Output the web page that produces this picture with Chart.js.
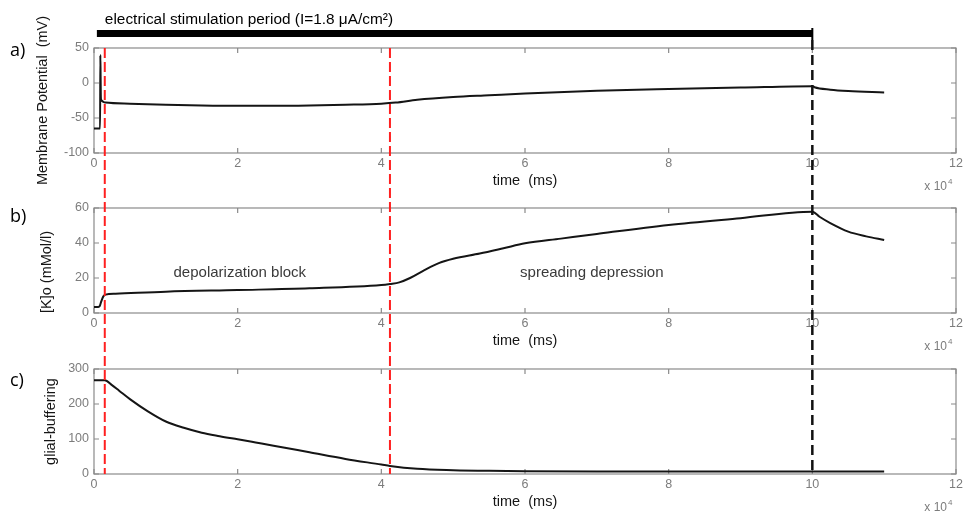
<!DOCTYPE html>
<html>
<head>
<meta charset="utf-8">
<script src="https://cdn.jsdelivr.net/npm/chart.js@4.4.1/dist/chart.umd.min.js"></script>
<style>
html, body { margin: 0; padding: 0; background: #fff; }
#wrap { position: relative; width: 963px; height: 514px; overflow: hidden; }
#wrap canvas { position: absolute; left: 0; top: 0; }
</style>
</head>
<body>
<div id="wrap">
    <canvas id="chartA" width="963" height="514"></canvas>
    <canvas id="chartB" width="963" height="514"></canvas>
    <canvas id="chartC" width="963" height="514"></canvas>
</div>
<script>
// a) membrane potential (mV)
const timeA = [0, 850, 880, 920, 960, 1050, 1300, 1600, 5000, 10000, 15000, 20000, 25000, 30000, 35000, 40000,
    42000, 45000, 50000, 55000, 60000, 70000, 80000, 90000, 100000, 100300, 102500, 105000, 110000];
const membranePotential = [-65, -65, 40, 10, -22, -25, -27, -28, -29.5, -31, -32, -32.5, -32.5, -32, -31, -29.5,
    -28, -24, -20, -17.5, -15, -11, -8.5, -6.5, -4.5, -6, -9.5, -11.5, -13.5];

// b) extracellular potassium [K]o (mMol/l)
const timeB = [0, 600, 800, 1000, 1300, 1600, 3000, 10000, 20000, 30000, 40000, 41200, 42500, 44000, 46000, 48000,
    50000, 53700, 57000, 60000, 65000, 70000, 80000, 90000, 100000, 101000, 102500, 105000, 107500, 110000];
const potassium = [3.5, 3.5, 4, 6.5, 9.5, 10.5, 11, 12.2, 13.1, 14.1, 16, 16.6, 17.5, 20, 24.5, 28.5,
    31, 34, 37, 39.8, 42.5, 45.2, 50.3, 54.2, 57.9, 55, 51.4, 46.5, 43.8, 41.7];

// c) glial buffering
const timeC = [0, 1500, 2500, 3500, 5000, 7500, 10000, 12500, 15000, 17500, 20000, 22500, 25000, 30000, 35000,
    40000, 41200, 45000, 50000, 55000, 60000, 70000, 80000, 90000, 100000, 110000];
const glialBuffering = [268, 268, 254, 238, 214, 179, 150, 132, 118, 108, 99, 90, 81, 62, 43,
    27, 23, 15, 11, 9, 8, 7, 7, 7, 7, 7];

// phase markers (ms) and stimulation period
const redMarkers = [1500, 41200];
const blackMarker = 100000;
const stimPeriod = [400, 100000];
const stimLabel = 'electrical stimulation period (I=1.8 \u03bcA/cm\u00b2)';

const xTicks = { min: 0, max: 120000, step: 20000, scale: 1e4 };

const annotationsB = [
    { text: 'depolarization block', t: 20300, v: 23 },
    { text: 'spreading depression', t: 69300, v: 23 }
];

Chart.defaults.font.family = '"Liberation Sans", Arial, sans-serif';
Chart.defaults.animation = false;

const tickGray = '#7c7c7c';

const panelFrame = {
    id: 'panelFrame',
    beforeDatasetsDraw(chart, args, o) {
        const { ctx, chartArea: a, scales: { x, y } } = chart;
        ctx.save();
        ctx.strokeStyle = '#8a8a8a';
        ctx.lineWidth = 1.2;
        ctx.strokeRect(a.left, a.top, a.width, a.height);
        const tl = 5;
        ctx.beginPath();
        x.ticks.forEach(t => {
            const px = x.getPixelForValue(t.value);
            ctx.moveTo(px, a.top); ctx.lineTo(px, a.top + tl);
            ctx.moveTo(px, a.bottom); ctx.lineTo(px, a.bottom - tl);
        });
        y.ticks.forEach(t => {
            const py = y.getPixelForValue(t.value);
            ctx.moveTo(a.left, py); ctx.lineTo(a.left + tl, py);
            ctx.moveTo(a.right, py); ctx.lineTo(a.right - tl, py);
        });
        ctx.stroke();
        ctx.restore();
    },
    afterDraw(chart, args, o) {
        const { ctx, chartArea: a, scales: { x, y } } = chart;
        ctx.save();
        // panel letter
        ctx.fillStyle = '#000';
        ctx.font = '18px "Open Sans", sans-serif';
        ctx.textBaseline = 'middle';
        ctx.textAlign = 'left';
        ctx.fillText(o.letter, 10, a.top + o.letterDy);
        // x 10^4 multiplier
        ctx.fillStyle = tickGray;
        ctx.font = '12px "Liberation Sans", Arial, sans-serif';
        ctx.textAlign = 'right';
        ctx.fillText('x 10', a.right - 9, a.bottom + 34);
        ctx.font = '8px "Liberation Sans", Arial, sans-serif';
        ctx.textAlign = 'left';
        ctx.fillText('4', a.right - 8, a.bottom + 29);
        // text annotations
        ctx.fillStyle = '#3a3a3a';
        ctx.font = '15px "Liberation Sans", Arial, sans-serif';
        ctx.textAlign = 'center';
        (o.notes || []).forEach(n => {
            ctx.fillText(n.text, x.getPixelForValue(n.t), y.getPixelForValue(n.v));
        });
        ctx.restore();
    }
};

// stimulation bar and dashed phase markers, drawn on the topmost chart
const overlay = {
    id: 'overlay',
    afterDraw(chart, args, o) {
        const { ctx, scales: { x } } = chart;
        ctx.save();
        const x0 = x.getPixelForValue(stimPeriod[0]);
        const x1 = x.getPixelForValue(stimPeriod[1]);
        ctx.fillStyle = '#000';
        ctx.fillRect(x0, 30, x1 - x0, 7);
        ctx.fillRect(x1 - 1, 28, 2, 12);
        ctx.font = '15.4px "Liberation Sans", Arial, sans-serif';
        ctx.textBaseline = 'middle';
        ctx.textAlign = 'left';
        ctx.fillText(stimLabel, x0 + 8, 20);

        ctx.lineWidth = 2;
        ctx.strokeStyle = '#ff2020';
        ctx.setLineDash([10, 4]);
        redMarkers.forEach(t => {
            const px = x.getPixelForValue(t);
            ctx.beginPath();
            ctx.moveTo(px, 48);
            ctx.lineTo(px, 474);
            ctx.stroke();
        });
        ctx.lineWidth = 2.5;
        ctx.strokeStyle = '#111';
        ctx.setLineDash([10, 5]);
        const pb = x.getPixelForValue(blackMarker);
        ctx.beginPath();
        ctx.moveTo(pb, 40);
        ctx.lineTo(pb, 474);
        ctx.stroke();
        ctx.restore();
    }
};

function makePanel(id, cfg) {
    const points = cfg.time.map((t, i) => ({ x: t, y: cfg.values[i] }));
    const plugins = [panelFrame];
    if (cfg.overlay) plugins.push(overlay);
    return new Chart(document.getElementById(id).getContext('2d'), {
        type: 'line',
        data: {
            datasets: [{
                data: points,
                borderColor: '#151515',
                borderWidth: 2,
                pointRadius: 0,
                cubicInterpolationMode: 'monotone',
                fill: false
            }]
        },
        options: {
            responsive: false,
            devicePixelRatio: 1,
            events: [],
            layout: { padding: cfg.padding },
            plugins: {
                legend: { display: false },
                tooltip: { enabled: false },
                panelFrame: { letter: cfg.letter, letterDy: cfg.letterDy, notes: cfg.notes }
            },
            scales: {
                x: {
                    type: 'linear',
                    min: xTicks.min,
                    max: xTicks.max,
                    grid: { display: false, drawTicks: false },
                    border: { display: false },
                    ticks: {
                        stepSize: xTicks.step,
                        color: tickGray,
                        font: { size: 12.5 },
                        padding: 3,
                        maxRotation: 0,
                        callback: v => v / xTicks.scale
                    },
                    title: {
                        display: true,
                        text: 'time  (ms)',
                        color: '#151515',
                        font: { size: 14.5 },
                        padding: { top: 0, bottom: cfg.xTitlePad }
                    },
                    afterFit: s => {
                        s.height = cfg.xHeight;
                        s.paddingLeft = 0;
                        s.paddingRight = 0;
                    }
                },
                y: {
                    min: cfg.yMin,
                    max: cfg.yMax,
                    grid: { display: false, drawTicks: false },
                    border: { display: false },
                    ticks: {
                        stepSize: cfg.yStep,
                        color: tickGray,
                        font: { size: 12.5 },
                        padding: 5
                    },
                    title: {
                        display: true,
                        text: cfg.yTitle,
                        align: cfg.yTitleAlign || 'center',
                        color: '#151515',
                        font: { size: 14.5 },
                        padding: { top: cfg.yTitleX, bottom: 0 }
                    },
                    afterFit: s => {
                        s.width = 94;
                        s.paddingTop = 0;
                        s.paddingBottom = 0;
                    }
                }
            }
        },
        plugins: plugins
    });
}

makePanel('chartA', {
    time: timeA, values: membranePotential,
    yMin: -100, yMax: 50, yStep: 50,
    yTitle: 'Membrane Potential  (mV)', yTitleX: 34,
    letter: 'a)', letterDy: 3,
    padding: { top: 48, left: 0, right: 7, bottom: 324 },
    xHeight: 37, xTitlePad: 0
});
makePanel('chartB', {
    time: timeB, values: potassium,
    yMin: 0, yMax: 60, yStep: 20,
    yTitle: '[K]o (mMol/l)', yTitleX: 38, yTitleAlign: 'start',
    letter: 'b)', letterDy: 9,
    notes: annotationsB,
    padding: { top: 208, left: 0, right: 7, bottom: 164 },
    xHeight: 37, xTitlePad: 0
});
makePanel('chartC', {
    time: timeC, values: glialBuffering,
    yMin: 0, yMax: 300, yStep: 100,
    yTitle: 'glial-buffering', yTitleX: 42,
    letter: 'c)', letterDy: 12,
    padding: { top: 369, left: 0, right: 7, bottom: 0 },
    xHeight: 40, xTitlePad: 3.5,
    overlay: true
});
</script>
</body>
</html>
